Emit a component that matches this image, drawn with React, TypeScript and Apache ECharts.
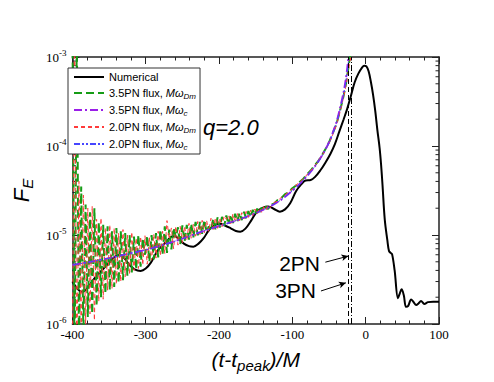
import { useEffect, useRef } from "react";
import * as echarts from "echarts";

// ---------- data (values in units of 1e-6) ----------
const UNIT = 1e-6;
const X_MIN = -400;
const X_MAX = 100;
const X_INTERVAL = 100;
const Y_MIN = 1e-6;
const Y_MAX = 1e-3;

const seriesNames = [
  "Numerical",
  "3.5PN flux, MωDm",
  "3.5PN flux, Mωc",
  "2.0PN flux, MωDm",
  "2.0PN flux, Mωc",
];

const numerical: [number, number][] = [
  [-400, 3.0], [-395, 2.6], [-390, 2.35], [-386, 2.3], [-382, 2.4], [-375, 2.85], [-368, 3.4],
  [-360, 4.0], [-354, 4.5], [-347, 5.2], [-341, 5.8], [-336, 5.95], [-330, 5.6], [-322, 4.6],
  [-315, 4.1], [-307, 3.95], [-300, 4.2], [-293, 4.9], [-283, 6.8], [-272, 8.4], [-265, 9.6],
  [-260, 9.7], [-256, 9.2], [-248, 8.0], [-241, 7.5], [-235, 7.4], [-228, 8.0], [-221, 9.2],
  [-213, 11.6], [-205, 13.0], [-199, 13.4], [-192, 12.8], [-184, 11.9], [-177, 11.1], [-171, 10.9],
  [-164, 11.8], [-156, 14.6], [-148, 18.5], [-140, 20.3], [-133, 20.9], [-125, 19.6], [-117, 18.3],
  [-110, 19.4], [-103, 22.7], [-95, 31], [-88, 37], [-82, 41], [-75, 41.5], [-69, 45], [-62, 53],
  [-55, 65], [-48, 82], [-42, 105], [-36, 145], [-30, 200], [-25, 265], [-20, 370], [-15, 520],
  [-10, 650], [-5, 760], [-2, 800], [1, 785], [4, 690], [7, 530], [10, 380], [13, 250], [16, 150],
  [19, 95], [21, 62], [23, 36], [26, 15], [29.5, 8.8], [31.8, 6.6], [34, 6.3], [36, 6.1],
  [39.5, 4.0], [44, 1.95], [46.5, 2.2], [49, 2.46], [52, 2.1], [55, 1.56], [58, 1.6], [62, 1.89],
  [65, 1.78], [69, 1.63], [72, 1.7], [75.5, 1.81], [80, 1.68], [85, 1.76], [92, 1.78], [100, 1.78],
];

const noiseTimes = [
  -400, -397, -394, -391, -388, -385, -382, -379, -376, -373,
  -370, -367, -364, -361, -358, -355, -352, -349, -346, -343,
  -340, -337, -334, -331, -328, -325, -322, -319, -316, -313,
  -310, -307, -304, -301, -298, -295, -292, -289, -286, -283,
  -280, -277, -274, -271, -268, -265, -262, -259, -256, -253,
  -250, -247, -244, -241, -238, -235, -232, -229, -226, -223,
  -220, -217, -214, -211, -208, -205, -202, -199, -196, -193,
  -190, -187, -184, -181, -178, -175, -172, -169, -166, -163,
  -160, -157, -154, -151, -148, -145, -142, -139, -136, -133,
  -130,
];

const green35Noise = [
  3000, 0.3, 2000, 0.5, 35, 0.8, 22, 1.2, 18, 1.3,
  20, 1.6, 14, 2.0, 13, 2.2, 12.5, 2.4, 11, 2.6,
  12, 2.9, 11, 3.1, 10.5, 3.5, 10, 3.8, 9.6, 4.1,
  10, 4.4, 9.2, 6.0, 9.8, 5.0, 10, 5.3, 10.5, 5.6,
  11.5, 6.0, 12.5, 6.3, 11.5, 6.9, 12, 9.5, 12.2, 7.8,
  12.8, 8.4, 13, 8.9, 13.4, 9.4, 14, 9.9, 14, 10.3,
  14.8, 10.8, 12.5, 11.2, 15.2, 11.6, 15.8, 12.1, 16, 12.6,
  16.6, 13.1, 17, 13.6, 17.3, 14.2, 17.8, 14.7, 18.2, 15.4,
  18.6, 16.0, 19.2, 16.8, 19.8, 17.5, 20.3, 18.5, 21, 19.6,
  21.8,
];

const red20Noise = [
  0.4, 2500, 0.35, 40, 0.7, 28, 1.0, 20, 1.3, 21,
  1.1, 15, 1.8, 15.5, 1.9, 12, 2.4, 13, 2.5, 12,
  2.8, 10.5, 3.0, 11.5, 3.4, 10, 3.6, 10.8, 4.0, 9.2,
  4.2, 9.6, 4.6, 9.8, 4.7, 9.4, 5.2, 10.2, 5.5, 11,
  5.8, 11, 6.2, 14.5, 9.0, 12, 7.0, 12.5, 7.7, 12.5,
  8.2, 12.6, 8.7, 13.5, 9.2, 13.2, 9.7, 14.2, 10.1, 14.6,
  10.6, 14.6, 11.0, 15.4, 11.5, 15.6, 11.9, 15.6, 12.4, 16.4,
  15.0, 16.6, 13.4, 17.3, 13.9, 17.4, 14.5, 17.8, 15.2, 18.4,
  15.8, 19, 16.5, 19.6, 17.2, 20, 18.0, 20.8, 19.0, 21.6,
  20.3,
];

const green35TailTimes = [-125, -120, -115, -110, -105, -100, -95, -90, -85, -80, -75, -70, -65, -60, -55, -50, -45, -40, -35, -30, -27, -25, -23, -21, -19];
const green35Tail = [22.5, 24.8, 26.0, 28.8, 30.2, 33.5, 36, 39.5, 43, 48, 53, 60, 67, 78, 92, 110, 138, 176, 248, 370, 495, 630, 820, 1050, 1400];

const red20TailTimes = [-125, -120, -115, -110, -105, -100, -95, -90, -85, -80, -75, -70, -65, -60, -55, -50, -45, -40, -35, -30, -27, -25, -23, -21, -19, -17];
const red20Tail = [23.2, 24, 26.6, 28, 31, 33, 36.5, 39, 43.5, 47.5, 53, 59, 66.5, 77, 90, 107, 134, 170, 240, 355, 470, 590, 750, 920, 1150, 1500];

const pnSmoothTimes = [-400, -375, -350, -325, -300, -275, -250, -225, -200, -175, -150, -130, -115, -100, -90, -80, -70, -60, -50, -45, -40, -35, -30, -27, -25, -23, -21];
const purple35c = [4.6, 5.0, 5.5, 6.1, 6.8, 7.8, 9.1, 10.8, 12.6, 14.7, 17.6, 21.0, 25.0, 31.5, 37.5, 46, 58, 77, 110, 140, 183, 265, 405, 570, 760, 1080, 1600];
const blue20c = [4.6, 5.0, 5.5, 6.1, 6.8, 7.8, 9.1, 10.8, 12.6, 14.7, 17.6, 21.0, 25.0, 31.5, 37.5, 46, 58, 76, 108, 137, 178, 255, 385, 530, 690, 980, 1450];

const minorLogTicks = [
  2e-6, 3e-6, 4e-6, 5e-6, 6e-6, 7e-6, 8e-6, 9e-6,
  2e-5, 3e-5, 4e-5, 5e-5, 6e-5, 7e-5, 8e-5, 9e-5,
  2e-4, 3e-4, 4e-4, 5e-4, 6e-4, 7e-4, 8e-4, 9e-4,
];

const pnLineTimes = [-24, -19.5];
const arrow2PN: [number, number][] = [[-55, 4.95], [-23.5, 5.8]];
const arrow3PN: [number, number][] = [[-61, 2.35], [-27, 2.9]];

// ---------- helpers ----------
const zip = (ts: number[], vs: number[]) => ts.map((t, i) => [t, vs[i] * UNIT]);
const scalePairs = (ps: [number, number][]) => ps.map(([t, v]) => [t, v * UNIT]);

const SANS = "'Liberation Sans', Arial, sans-serif";
const SERIF = "'Liberation Serif', 'Times New Roman', serif";
const FRAME = "#222";

function legendFormatter(name: string) {
  const idx = name.indexOf("Mω");
  if (idx < 0) return name;
  const prefix = name.slice(0, idx);
  const sub = name.slice(idx + 2);
  return `${prefix}{it|Mω}{sub|${sub}}`;
}

export default function App() {
  const ref = useRef<HTMLDivElement>(null);

  useEffect(() => {
    if (!ref.current) return;
    const chart = echarts.init(ref.current, undefined, { renderer: "svg" });

    const lineBase = { type: "line", symbol: "none", showSymbol: false, silent: true, clip: true };

    const option: any = {
      animation: false,
      backgroundColor: "#fff",
      grid: { left: 57, top: 57, width: 382, height: 267 },
      legend: {
        data: seriesNames,
        orient: "vertical",
        left: 68,
        top: 68,
        itemWidth: 30,
        itemHeight: 12,
        itemGap: 3,
        padding: [3, 4, 3, 5],
        backgroundColor: "#fff",
        borderColor: "#333",
        borderWidth: 1,
        borderRadius: 0,
        selectedMode: false,
        itemStyle: { opacity: 0 },
        formatter: legendFormatter,
        textStyle: {
          fontFamily: SANS,
          fontSize: 11,
          color: "#000",
          lineHeight: 12,
          rich: {
            it: { fontFamily: SANS, fontSize: 11, fontStyle: "italic", color: "#000", lineHeight: 12, verticalAlign: "middle" },
            sub: { fontFamily: SANS, fontSize: 8, fontStyle: "italic", color: "#000", lineHeight: 12, padding: [6, 0, 0, 0], verticalAlign: "middle" },
          },
        },
      },
      xAxis: [
        {
          type: "value",
          min: X_MIN,
          max: X_MAX,
          interval: X_INTERVAL,
          position: "bottom",
          axisLine: { show: true, onZero: false, lineStyle: { color: FRAME, width: 1.5 } },
          axisTick: { show: true, inside: true, length: 7, lineStyle: { color: FRAME, width: 1 } },
          minorTick: { show: true, splitNumber: 5, length: 3.5, lineStyle: { color: FRAME, width: 1 } },
          splitLine: { show: false },
          axisLabel: { fontFamily: SERIF, fontSize: 13, color: "#000", margin: 4, showMinLabel: true, showMaxLabel: true },
          name: "{a|(t-t}{s|peak}{a|)/M}",
          nameLocation: "middle",
          nameGap: 7,
          nameTextStyle: {
            rich: {
              a: { fontFamily: SANS, fontSize: 21, fontStyle: "italic", color: "#000", lineHeight: 24, verticalAlign: "middle" },
              s: { fontFamily: SANS, fontSize: 15, fontStyle: "italic", color: "#000", lineHeight: 24, padding: [12, 0, 0, 0], verticalAlign: "middle" },
            },
          },
        },
        {
          type: "value",
          min: X_MIN,
          max: X_MAX,
          interval: X_INTERVAL,
          position: "top",
          axisLine: { show: true, onZero: false, lineStyle: { color: FRAME, width: 1.5 } },
          axisTick: { show: true, inside: true, length: 7, lineStyle: { color: FRAME, width: 1 } },
          minorTick: { show: true, splitNumber: 5, length: 3.5, lineStyle: { color: FRAME, width: 1 } },
          splitLine: { show: false },
          axisLabel: { show: false },
        },
      ],
      yAxis: [
        {
          type: "log",
          logBase: 10,
          min: Y_MIN,
          max: Y_MAX,
          position: "left",
          axisLine: { show: true, onZero: false, lineStyle: { color: FRAME, width: 1.5 } },
          axisTick: { show: true, inside: true, length: 7, lineStyle: { color: FRAME, width: 1 } },
          splitLine: { show: false },
          axisLabel: {
            margin: 6,
            showMinLabel: true,
            showMaxLabel: true,
            formatter: (v: number) => `{b|10}{s|${Math.round(Math.log10(v))}}`,
            rich: {
              b: { fontFamily: SERIF, fontSize: 13, color: "#000", lineHeight: 14, verticalAlign: "middle" },
              s: { fontFamily: SERIF, fontSize: 9, color: "#000", lineHeight: 14, padding: [0, 0, 9, 0], verticalAlign: "middle" },
            },
          },
          name: "{a|F}{s|E}",
          nameLocation: "middle",
          nameGap: 26,
          nameTextStyle: {
            rich: {
              a: { fontFamily: SANS, fontSize: 22, fontStyle: "italic", color: "#000", lineHeight: 24, verticalAlign: "middle" },
              s: { fontFamily: SANS, fontSize: 15, fontStyle: "italic", color: "#000", lineHeight: 24, padding: [12, 0, 0, 0], verticalAlign: "middle" },
            },
          },
        },
        {
          type: "log",
          logBase: 10,
          min: Y_MIN,
          max: Y_MAX,
          position: "right",
          axisLine: { show: true, onZero: false, lineStyle: { color: FRAME, width: 1.5 } },
          axisTick: { show: true, inside: true, length: 7, lineStyle: { color: FRAME, width: 1 } },
          splitLine: { show: false },
          axisLabel: { show: false },
        },
      ],
      series: [
        {
          ...lineBase,
          name: seriesNames[0],
          data: scalePairs(numerical),
          smooth: 0.35,
          lineStyle: { color: "#000", width: 2 },
          itemStyle: { color: "#000" },
        },
        {
          ...lineBase,
          name: seriesNames[1],
          data: [...zip(noiseTimes, green35Noise), ...zip(green35TailTimes, green35Tail)],
          lineStyle: { color: "#169c16", width: 2, type: [8, 4] },
          itemStyle: { color: "#169c16" },
        },
        {
          ...lineBase,
          name: seriesNames[2],
          data: zip(pnSmoothTimes, purple35c),
          smooth: 0.3,
          lineStyle: { color: "#9a1ee8", width: 2, type: [8, 3, 2, 3] },
          itemStyle: { color: "#9a1ee8" },
        },
        {
          ...lineBase,
          name: seriesNames[3],
          data: [...zip(noiseTimes, red20Noise), ...zip(red20TailTimes, red20Tail)],
          lineStyle: { color: "#ff3b3b", width: 1, type: [4, 3] },
          itemStyle: { color: "#ff3b3b" },
        },
        {
          ...lineBase,
          name: seriesNames[4],
          data: zip(pnSmoothTimes, blue20c),
          smooth: 0.3,
          lineStyle: { color: "#4646ff", width: 1, type: [6, 2, 2, 2, 2, 2] },
          itemStyle: { color: "#4646ff" },
        },
        {
          type: "line",
          name: "pn-lines",
          data: [],
          silent: true,
          markLine: {
            silent: true,
            symbol: ["none", "none"],
            label: { show: false },
            animation: false,
            data: [
              { xAxis: pnLineTimes[0], lineStyle: { color: "#000", width: 1, type: [5, 3] } },
              { xAxis: pnLineTimes[1], lineStyle: { color: "#000", width: 1, type: [6, 2, 1, 2] } },
            ],
          },
        },
        {
          type: "line",
          name: "pn-arrows",
          data: [],
          silent: true,
          markLine: {
            silent: true,
            symbol: ["none", "arrow"],
            symbolSize: [5, 7],
            label: { show: false },
            animation: false,
            lineStyle: { color: "#000", width: 1, type: "solid" },
            data: [
              [{ coord: scalePairs([arrow2PN[0]])[0] }, { coord: scalePairs([arrow2PN[1]])[0] }],
              [{ coord: scalePairs([arrow3PN[0]])[0] }, { coord: scalePairs([arrow3PN[1]])[0] }],
            ],
          },
        },
        {
          type: "custom",
          name: "log-minor-ticks",
          silent: true,
          clip: false,
          data: minorLogTicks.map((v) => [X_MIN, v]),
          encode: { x: 0, y: 1 },
          renderItem: (params: any, api: any) => {
            const pt = api.coord([X_MIN, api.value(1)]);
            const cs = params.coordSys;
            const y = pt[1];
            const st = { stroke: FRAME, lineWidth: 1 };
            return {
              type: "group",
              children: [
                { type: "line", shape: { x1: cs.x, y1: y, x2: cs.x + 3.5, y2: y }, style: st },
                { type: "line", shape: { x1: cs.x + cs.width, y1: y, x2: cs.x + cs.width - 3.5, y2: y }, style: st },
              ],
            };
          },
        },
      ],
      graphic: [
        {
          type: "text",
          x: 203,
          y: 127,
          style: { text: "q=2.0", font: `italic 22px ${SANS}`, fill: "#000", textAlign: "left", textVerticalAlign: "middle", align: "left", verticalAlign: "middle" },
        },
        {
          type: "text",
          x: 320,
          y: 263,
          style: { text: "2PN", font: `21px ${SANS}`, fill: "#000", textAlign: "right", textVerticalAlign: "middle", align: "right", verticalAlign: "middle" },
        },
        {
          type: "text",
          x: 316,
          y: 290,
          style: { text: "3PN", font: `21px ${SANS}`, fill: "#000", textAlign: "right", textVerticalAlign: "middle", align: "right", verticalAlign: "middle" },
        },
      ],
    };

    chart.setOption(option);
    return () => chart.dispose();
  }, []);

  return (
    <div
      ref={ref}
      style={{ position: "fixed", left: 0, top: 0, width: 494, height: 382, background: "#fff" }}
    />
  );
}
